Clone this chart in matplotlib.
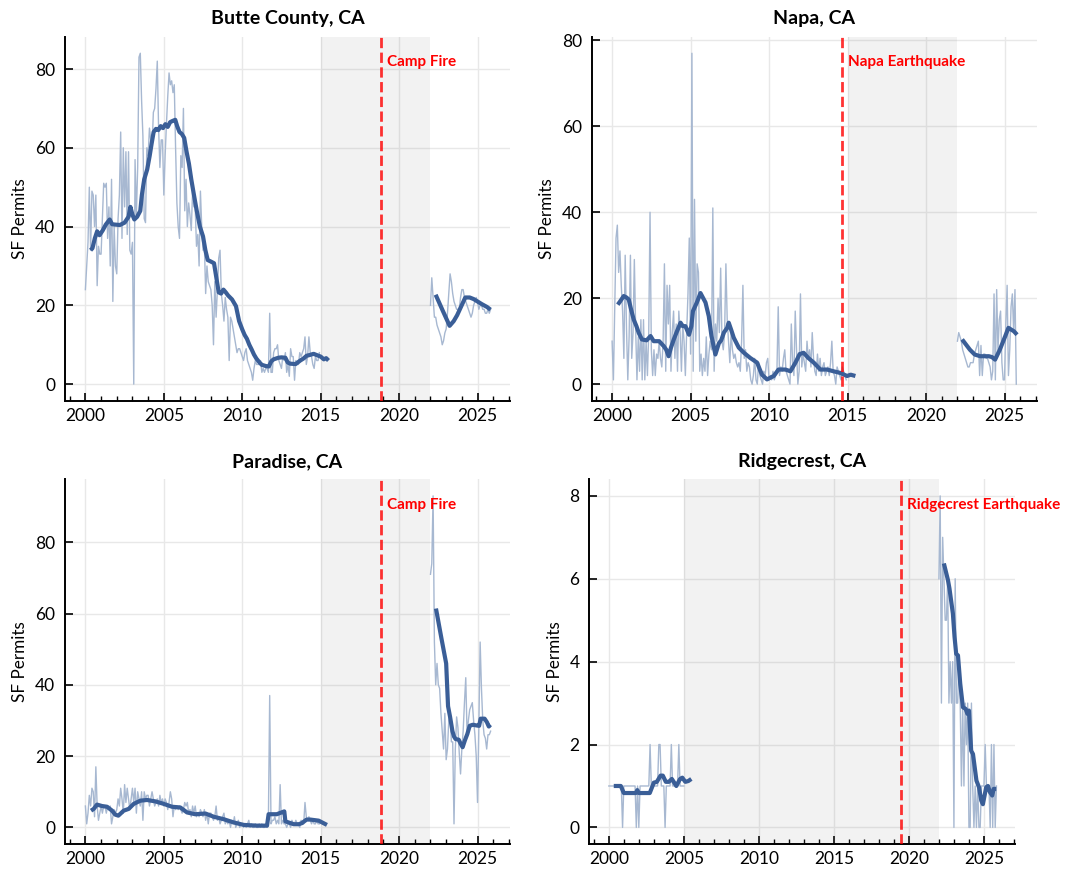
import numpy as np
import matplotlib
matplotlib.use("Agg")
import matplotlib.pyplot as plt
from matplotlib.ticker import MultipleLocator

plt.rcParams['font.family'] = ['Lato', 'DejaVu Sans']

# ---------------- data ----------------
titles = ["Butte County, CA", "Napa, CA", "Paradise, CA", "Ridgecrest, CA"]
events = ["Camp Fire", "Napa Earthquake", "Camp Fire", "Ridgecrest Earthquake"]
event_dates = [2018.85, 2014.65, 2018.85, 2019.5]
gap_spans = [(2015, 2022), (2015, 2022), (2015, 2022), (2005, 2022)]
y_steps = [20, 20, 20, 2]

# raw monthly permits, segment 1 starts Jan 2000, segment 2 starts Jan 2022
butte_raw1 = [24, 30, 36, 50, 34, 49, 48, 40, 48, 25, 35, 33,
              33, 42, 51, 50, 51, 37, 45, 30, 52, 21, 40, 30,
              28, 42, 48, 64, 37, 60, 45, 59, 38, 59, 34, 33,
              36, 0, 57, 43, 55, 83, 84, 72, 63, 42, 41, 60,
              58, 65, 62, 60, 69, 70, 75, 82, 65, 55, 62, 62,
              48, 58, 66, 73, 79, 76, 77, 74, 76, 60, 46, 40,
              37, 58, 55, 70, 44, 52, 40, 46, 43, 39, 49, 45,
              45, 35, 38, 30, 49, 40, 34, 36, 23, 30, 26, 25,
              24, 20, 10, 26, 17, 24, 32, 34, 23, 20, 16, 22,
              19, 17, 6, 17, 16, 14, 12, 10, 8, 9, 9, 8,
              7, 6, 8, 9, 6, 5, 4, 3, 1, 4, 6, 5,
              5, 5, 6, 3, 4, 3, 4, 4, 3, 18, 3, 3,
              8, 9, 9, 10, 6, 5, 4, 7, 6, 8, 3, 5,
              2, 9, 7, 7, 1, 6, 5, 5, 8, 7, 8, 9,
              12, 5, 7, 12, 8, 7, 5, 4, 7, 6, 6, 8]
butte_raw2 = [20, 27, 22, 17, 17, 15, 14, 13, 12, 10, 11, 13,
              14, 18, 23, 28, 26, 23, 21, 20, 19, 19, 19, 22,
              24, 24, 22, 21, 20, 19, 18, 17, 18, 20, 21, 22,
              21, 19, 20, 20, 19, 19, 18, 18, 19, 18, 19]

napa_raw1 = [10, 1, 17, 34, 37, 26, 31, 23, 17, 6, 30, 13,
             1, 11, 30, 6, 12, 29, 13, 1, 11, 3, 15, 1,
             15, 1, 10, 2, 12, 40, 8, 2, 8, 2, 7, 6,
             10, 6, 4, 10, 28, 3, 23, 14, 23, 3, 12, 17,
             6, 14, 3, 17, 12, 3, 14, 10, 2, 12, 21, 34,
             7, 77, 3, 43, 10, 28, 26, 3, 7, 2, 6, 3,
             11, 2, 7, 10, 8, 41, 3, 14, 10, 20, 12, 27,
             10, 8, 12, 28, 15, 10, 5, 12, 8, 6, 7, 5,
             4, 5, 3, 10, 23, 6, 8, 3, 5, 4, 1, 0,
             2, 6, 1, 0, 5, 2, 1, 0, 3, 2, 5, 6,
             1, 2, 1, 3, 1, 2, 3, 18, 2, 4, 3, 6,
             8, 3, 2, 1, 0, 14, 5, 2, 17, 8, 0, 3,
             21, 4, 7, 5, 3, 10, 6, 8, 4, 12, 6, 3,
             2, 7, 3, 6, 2, 4, 5, 2, 3, 4, 2, 5,
             10, 3, 2, 0, 4, 3, 2, 1, 4, 3, 2, 1]
napa_raw2 = [10, 12, 11, 10, 8, 7, 6, 5, 4, 4, 5, 5,
             5, 7, 8, 9, 10, 2, 9, 2, 7, 7, 6, 6,
             5, 4, 1, 3, 21, 1, 22, 8, 15, 17, 5, 1,
             1, 14, 23, 2, 8, 18, 21, 12, 22, 0]

paradise_raw1 = [6, 1, 4, 9, 6, 11, 10, 3, 17, 6, 2, 4,
                 6, 4, 6, 6, 4, 6, 5, 6, 1, 3, 5, 4,
                 5, 8, 6, 11, 8, 4, 12, 7, 11, 8, 5, 8,
                 11, 7, 11, 4, 10, 8, 6, 10, 2, 10, 8, 9,
                 9, 6, 8, 10, 8, 6, 7, 8, 6, 9, 7, 8,
                 6, 8, 7, 5, 7, 10, 8, 3, 6, 5, 6, 5,
                 6, 5, 4, 5, 7, 6, 7, 4, 5, 3, 6, 4,
                 6, 3, 4, 3, 5, 4, 3, 5, 2, 4, 1, 4,
                 4, 3, 2, 3, 6, 2, 3, 1, 2, 3, 4, 1,
                 2, 1, 2, 0, 2, 1, 3, 0, 1, 2, 0, 1,
                 1, 0, 1, 0, 1, 2, 0, 1, 0, 0, 1, 0,
                 0, 1, 0, 1, 0, 0, 1, 0, 2, 37, 1, 2,
                 2, 3, 1, 2, 1, 12, 1, 2, 1, 1, 0, 1,
                 1, 0, 2, 1, 1, 2, 1, 1, 0, 2, 1, 1,
                 7, 3, 2, 3, 2, 1, 2, 1, 1, 2, 1, 1]
paradise_raw2 = [71, 74, 93, 52, 40, 46, 40, 39, 32, 27, 22, 32,
                 19, 22, 30, 32, 24, 24, 1, 22, 31, 28, 21, 15,
                 22, 27, 35, 42, 26, 30, 33, 34, 35, 30, 26, 20,
                 7, 28, 52, 39, 30, 26, 25, 22, 26, 26, 27]

ridgecrest_raw1 = [1, 1, 1, 1, 1, 1, 1, 1, 1, 1, 1, 0,
                   1, 1, 1, 1, 1, 1, 1, 1, 1, 1, 0, 1,
                   0, 1, 1, 1, 1, 1, 1, 1, 1, 2, 1, 1,
                   1, 1, 1, 1, 2, 2, 1, 1, 1, 0, 1, 1,
                   1, 1, 2, 1, 1, 1, 1, 1, 2, 1, 1, 1,
                   1]
ridgecrest_raw2 = [6, 8, 3, 7, 6, 5, 5, 6, 3, 4, 3, 4,
                   0, 6, 3, 3, 4, 3, 1, 3, 1, 3, 2, 3,
                   0, 0, 3, 1, 0, 1, 0, 1, 0, 0, 1, 1,
                   1, 2, 1, 1, 1, 0, 2, 0, 2, 0, 1]

# smoothed trend lines (year, value)
butte_trend1_x = [2000.33, 2000.45, 2000.6, 2000.75, 2000.9, 2001.1, 2001.3, 2001.55, 2001.7, 2001.9,
                  2002.2, 2002.5, 2002.75, 2002.87, 2003.0, 2003.12, 2003.3, 2003.5, 2003.6, 2003.75,
                  2003.94, 2004.1, 2004.22, 2004.35, 2004.5, 2004.65, 2004.8, 2004.95, 2005.1, 2005.25,
                  2005.4, 2005.55, 2005.73, 2005.85, 2006.0, 2006.15, 2006.3, 2006.45, 2006.6, 2006.75,
                  2006.9, 2007.1, 2007.3, 2007.5, 2007.65, 2007.8, 2007.96, 2008.2, 2008.35, 2008.5,
                  2008.65, 2008.8, 2008.95, 2009.1, 2009.35, 2009.6, 2009.8, 2010.0, 2010.15, 2010.3,
                  2010.45, 2010.6, 2010.75, 2010.9, 2011.1, 2011.25, 2011.5, 2011.7, 2011.85, 2012.0,
                  2012.3, 2012.5, 2012.75, 2012.9, 2013.05, 2013.4, 2013.7, 2013.9, 2014.1, 2014.3,
                  2014.55, 2014.8, 2015.0, 2015.2, 2015.35, 2015.5]
butte_trend1_y = [34, 34.5, 37, 38.8, 37.8, 39, 40.5, 41.8, 40.6, 40.5,
                  40.4, 41, 42.5, 45, 43, 41.8, 42.5, 44, 48, 52,
                  54.5, 58, 61, 64, 64.8, 64.5, 65.5, 65, 66, 65.3,
                  66.5, 66.8, 67.1, 65.5, 64, 63.5, 62.5, 59, 56, 52,
                  48.5, 44, 40, 37.5, 34, 31.5, 31.2, 30.7, 27, 23.3,
                  23, 24, 23.3, 22.5, 21.5, 19.8, 16, 13.9, 12.5, 11.5,
                  10, 8.8, 7.5, 6.5, 5.5, 4.9, 4.6, 4.5, 5.8, 6.3,
                  6.7, 6.8, 6.7, 5.5, 5.2, 5.1, 6.0, 6.5, 7.2, 7.4,
                  7.7, 7.3, 7.0, 6.3, 6.6, 6.0]
butte_trend2_x = [2022.33, 2022.8, 2023.22, 2023.48, 2023.7, 2024.22, 2024.5, 2024.75, 2025.28, 2025.6, 2025.83]
butte_trend2_y = [22.7, 18.5, 14.8, 16.0, 17.5, 22.0, 22.0, 21.6, 20.3, 19.6, 18.9]

napa_trend1_x = [2000.36, 2000.5, 2000.74, 2000.9, 2001.06, 2001.2, 2001.38, 2001.55, 2001.7, 2001.9,
                 2002.2, 2002.45, 2002.65, 2003.0, 2003.3, 2003.45, 2003.6, 2003.75, 2003.93, 2004.1,
                 2004.36, 2004.5, 2004.67, 2004.9, 2005.05, 2005.15, 2005.4, 2005.63, 2005.95, 2006.16,
                 2006.33, 2006.58, 2006.8, 2006.95, 2007.12, 2007.33, 2007.43, 2007.6, 2007.75, 2008.07,
                 2008.4, 2008.8, 2009.24, 2009.4, 2009.55, 2009.87, 2010.3, 2010.6, 2011.04, 2011.36,
                 2011.68, 2011.95, 2012.2, 2012.5, 2012.85, 2013.27, 2013.7, 2014.1, 2014.55, 2014.97,
                 2015.2, 2015.5]
napa_trend1_y = [18.5, 19.2, 20.5, 20.2, 19.7, 17.5, 15, 13.5, 11.9, 10.4,
                 10.2, 11.2, 10.0, 10.0, 8.8, 8.0, 6.5, 8.5, 10.4, 12,
                 14.3, 13.5, 13.5, 11.5, 13.5, 17, 19, 21.2, 19, 15.8,
                 11.2, 6.9, 9.5, 10.2, 12, 13.1, 14.3, 12.5, 10.8, 8.5,
                 7.3, 6.1, 5, 3.5, 2.2, 1.1, 1.9, 3.4, 3.4, 3.0,
                 5, 7, 7.3, 6.1, 5, 3.4, 3.4, 3, 2.6, 1.9,
                 2.2, 1.9]
napa_trend2_x = [2022.3, 2022.8, 2023.1, 2023.45, 2024.0, 2024.2, 2024.4, 2024.7, 2025.05, 2025.25, 2025.6, 2025.8]
napa_trend2_y = [10.4, 8.0, 6.9, 6.5, 6.5, 6.3, 5.7, 8.0, 11.2, 13.1, 12.3, 11.5]

paradise_trend1_x = [2000.36, 2000.53, 2000.74, 2001.06, 2001.38, 2001.7, 2001.9, 2002.1, 2002.44, 2002.76,
                     2003.08, 2003.5, 2003.93, 2004.46, 2005.0, 2005.52, 2006.05, 2006.48, 2007.0, 2007.65,
                     2008.18, 2008.82, 2009.45, 2010.1, 2010.94, 2011.58, 2011.68, 2012.2, 2012.5, 2012.68,
                     2012.75, 2013.28, 2013.6, 2013.8, 2014.1, 2014.34, 2014.87, 2015.4]
paradise_trend1_y = [4.7, 5.2, 6.4, 6.0, 5.8, 4.7, 3.6, 3.3, 4.7, 5.2,
                     6.6, 7.5, 7.7, 7.3, 6.6, 5.8, 5.6, 4.2, 3.7, 3.9,
                     3.0, 2.3, 1.4, 0.7, 0.5, 0.5, 3.7, 3.7, 4.2, 4.5,
                     1.7, 0.9, 0.9, 1.2, 2.2, 2.2, 1.9, 0.7]
paradise_trend2_x = [2022.35, 2022.7, 2023.0, 2023.12, 2023.25, 2023.4, 2023.5, 2023.6, 2023.8, 2023.92,
                     2024.05, 2024.2, 2024.35, 2024.5, 2024.7, 2024.95, 2025.1, 2025.2, 2025.45, 2025.6,
                     2025.72, 2025.82]
paradise_trend2_y = [61.4, 53, 46, 34, 31, 27, 25.5, 24.8, 24.6, 23.5,
                     22.5, 24.5, 26.2, 28.5, 28.8, 28.6, 28.5, 30.5, 30.5, 29.5,
                     28.3, 28.8]

ridgecrest_trend1_x = [2000.33, 2000.8, 2001.0, 2001.8, 2001.9, 2002.0, 2002.73, 2003.0, 2003.2, 2003.45,
                       2003.6, 2003.8, 2004.0, 2004.2, 2004.5, 2004.75, 2004.9, 2005.1, 2005.3, 2005.5]
ridgecrest_trend1_y = [1.0, 1.0, 0.83, 0.83, 0.9, 0.83, 0.83, 1.08, 1.1, 1.25,
                       1.25, 1.1, 1.1, 1.17, 1.0, 1.17, 1.2, 1.1, 1.12, 1.17]
ridgecrest_trend2_x = [2022.33, 2022.6, 2022.7, 2022.93, 2023.04, 2023.15, 2023.27, 2023.42, 2023.6, 2023.78,
                       2023.9, 2024.0, 2024.15, 2024.27, 2024.5, 2024.67, 2024.82, 2024.93, 2025.15, 2025.27,
                       2025.4, 2025.55, 2025.65, 2025.82]
ridgecrest_trend2_y = [6.37, 5.97, 5.77, 5.16, 4.6, 4.19, 4.15, 3.47, 2.9, 2.86,
                       2.74, 2.82, 1.85, 1.77, 1.13, 0.97, 0.65, 0.56, 0.97, 1.0,
                       0.85, 0.77, 0.93, 0.93]

raws = [(butte_raw1, butte_raw2), (napa_raw1, napa_raw2),
        (paradise_raw1, paradise_raw2), (ridgecrest_raw1, ridgecrest_raw2)]
trends = [((butte_trend1_x, butte_trend1_y), (butte_trend2_x, butte_trend2_y)),
          ((napa_trend1_x, napa_trend1_y), (napa_trend2_x, napa_trend2_y)),
          ((paradise_trend1_x, paradise_trend1_y), (paradise_trend2_x, paradise_trend2_y)),
          ((ridgecrest_trend1_x, ridgecrest_trend1_y), (ridgecrest_trend2_x, ridgecrest_trend2_y))]
seg_starts = [2000.0, 2022.0]

# ---------------- layout ----------------
W, H = 1086, 872
fig = plt.figure(figsize=(W / 100, H / 100), dpi=100)
boxes = [(65, 36.7, 510, 400.7), (591.7, 36.7, 1037, 400.7),
         (65, 479.3, 510, 844), (589.3, 479.3, 1015, 844)]

raw_color = '#a7b8d1'
trend_color = '#3a5e97'

for i, (x0, y0, x1, y1) in enumerate(boxes):
    ax = fig.add_axes([x0 / W, 1 - y1 / H, (x1 - x0) / W, (y1 - y0) / H])
    ax.axvspan(*gap_spans[i], color='gray', alpha=0.1, lw=0, zorder=1)
    for seg, start in zip(raws[i], seg_starts):
        xs = start + np.arange(len(seg)) / 12.0
        ax.plot(xs, seg, color=raw_color, lw=1.0, zorder=2)
    for tx, ty in trends[i]:
        ax.plot(tx, ty, color=trend_color, lw=3.0, zorder=3, solid_capstyle='butt')
    ax.axvline(event_dates[i], color='red', alpha=0.8, ls='--', lw=2, zorder=4)
    ax.text(event_dates[i] + 0.35, 0.93, events[i], transform=ax.get_xaxis_transform(),
            color='red', fontsize=11, fontweight='bold', va='center', ha='left')
    ax.set_title(titles[i], fontsize=14, fontweight='bold', pad=9)
    ax.set_ylabel('SF Permits', fontsize=12.3, labelpad=5)
    ax.set_xlim(1998.7, 2027.07)
    ax.margins(y=0.05)
    ax.xaxis.set_major_locator(MultipleLocator(5))
    ax.xaxis.set_minor_locator(MultipleLocator(1))
    ax.yaxis.set_major_locator(MultipleLocator(y_steps[i]))
    ax.grid(True, which='major', color='#e8e8e8', lw=1.0)
    ax.set_axisbelow(True)
    for s in ['top', 'right']:
        ax.spines[s].set_visible(False)
    for s in ['left', 'bottom']:
        ax.spines[s].set_linewidth(1.4)
    ax.tick_params(axis='both', which='major', direction='in', length=6, width=1.2,
                   labelsize=12.5, pad=5)
    ax.tick_params(axis='x', which='minor', direction='in', length=3.5, width=1.0)
    ax.tick_params(axis='y', which='major', pad=7)

fig.savefig('out.png', dpi=100)
